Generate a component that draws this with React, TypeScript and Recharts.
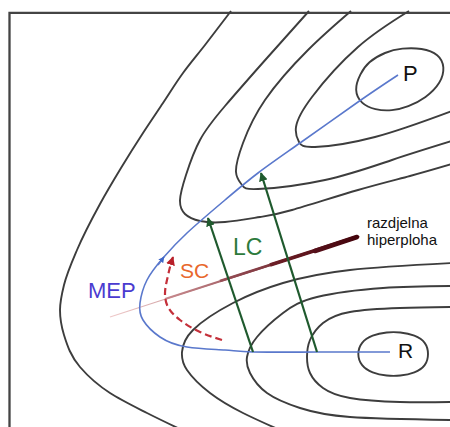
import { ComposedChart, Line, Scatter, XAxis, YAxis } from "recharts";

type Pt = { x: number; y: number };

// picture frame (left and top edge only)
const frame: Pt[] = [{ x: 9.5, y: 440 }, { x: 9.5, y: 12.8 }, { x: 460, y: 12.8 }];

// energy contours, upper (product) valley
const contourOuter: Pt[] = [
  { x: 231, y: 11 }, { x: 205, y: 45 }, { x: 183, y: 73 }, { x: 163, y: 103 }, { x: 143, y: 133 },
  { x: 121, y: 168 }, { x: 100, y: 204 }, { x: 77, y: 250 }, { x: 64, y: 285 }, { x: 60, y: 310 },
  { x: 64, y: 335 }, { x: 80, y: 367 }, { x: 110, y: 393 }, { x: 147, y: 413 }, { x: 182, y: 430 },
];
const contourP1: Pt[] = [
  { x: 309, y: 11 }, { x: 267, y: 58 }, { x: 225, y: 106 }, { x: 200, y: 140 }, { x: 186, y: 175 },
  { x: 180, y: 200 }, { x: 185, y: 214 }, { x: 200, y: 221 }, { x: 225, y: 222 }, { x: 260, y: 217 },
  { x: 292, y: 210 }, { x: 358, y: 190 }, { x: 410, y: 176 }, { x: 452, y: 164 },
];
const contourP2: Pt[] = [
  { x: 351, y: 11 }, { x: 308, y: 50 }, { x: 265, y: 100 }, { x: 243, y: 143 }, { x: 236, y: 172 },
  { x: 242, y: 185 }, { x: 258, y: 189 }, { x: 325, y: 180 }, { x: 392, y: 160 }, { x: 452, y: 141 },
];
const contourP3: Pt[] = [
  { x: 409, y: 11 }, { x: 358, y: 47 }, { x: 312, y: 97 }, { x: 296, y: 127 }, { x: 299, y: 142 },
  { x: 315, y: 147 }, { x: 375, y: 137 }, { x: 452, y: 111 },
];
const ellipseP: Pt[] = [
  { x: 354, y: 90 }, { x: 360, y: 74 }, { x: 368, y: 62 }, { x: 385, y: 52 }, { x: 402, y: 48 },
  { x: 422, y: 48 }, { x: 439, y: 54 }, { x: 445, y: 67 }, { x: 441, y: 83 }, { x: 426, y: 98 },
  { x: 408, y: 107 }, { x: 392, y: 111 }, { x: 375, y: 110 }, { x: 361, y: 104 },
];

// energy contours, lower (reactant) valley
const contourR1: Pt[] = [
  { x: 452, y: 307 }, { x: 400, y: 308 }, { x: 350, y: 312 }, { x: 323, y: 323 }, { x: 310, y: 340 },
  { x: 307, y: 357 }, { x: 310, y: 373 }, { x: 323, y: 388 }, { x: 350, y: 398 }, { x: 400, y: 402 },
  { x: 452, y: 402 },
];
const contourR2: Pt[] = [
  { x: 452, y: 286 }, { x: 383, y: 288 }, { x: 317, y: 297 }, { x: 283, y: 313 }, { x: 257, y: 337 },
  { x: 247, y: 357 }, { x: 250, y: 373 }, { x: 267, y: 393 }, { x: 300, y: 408 }, { x: 350, y: 417 },
  { x: 452, y: 420 },
];
const contourR3: Pt[] = [
  { x: 452, y: 263 }, { x: 350, y: 270 }, { x: 283, y: 283 }, { x: 233, y: 303 }, { x: 193, y: 330 },
  { x: 182, y: 352 }, { x: 187, y: 370 }, { x: 210, y: 393 }, { x: 243, y: 413 }, { x: 280, y: 430 },
];
const ellipseR: Pt[] = [
  { x: 357, y: 354 }, { x: 361, y: 342 }, { x: 372, y: 335 }, { x: 387, y: 332 }, { x: 400, y: 332 },
  { x: 415, y: 335 }, { x: 426, y: 342 }, { x: 429, y: 354 }, { x: 426, y: 366 }, { x: 415, y: 373 },
  { x: 400, y: 376 }, { x: 387, y: 376 }, { x: 372, y: 373 }, { x: 361, y: 366 },
];

// minimum energy path, R -> P
const mep: Pt[] = [
  { x: 390, y: 352 }, { x: 317, y: 352 }, { x: 253, y: 352 }, { x: 225, y: 350 }, { x: 187, y: 347 },
  { x: 160, y: 337 }, { x: 143, y: 320 }, { x: 140, y: 303 }, { x: 147, y: 280 }, { x: 163, y: 258 },
  { x: 187, y: 233 }, { x: 225, y: 200 }, { x: 258, y: 173 }, { x: 300, y: 143 }, { x: 358, y: 102 },
  { x: 398, y: 75 },
];
const mepArrow: Pt[] = [{ x: 158, y: 265 }, { x: 164, y: 257 }];

// tunnelling paths
const lc1: Pt[] = [{ x: 253, y: 352 }, { x: 208, y: 218 }];
const lc2: Pt[] = [{ x: 317, y: 352 }, { x: 261, y: 173 }];
const sc: Pt[] = [
  { x: 222, y: 340 }, { x: 200, y: 332 }, { x: 180, y: 320 }, { x: 168, y: 307 }, { x: 165, y: 293 },
  { x: 167, y: 280 }, { x: 170, y: 267 }, { x: 173, y: 257 },
];

// dividing surface, drawn as layers that thicken towards the right end
const surfaceLayers = [
  { id: "s0", data: [{ x: 110, y: 317 }, { x: 357, y: 237 }], width: 1.2, from: "#efcaca", to: "#7a2a30" },
  { id: "s1", data: [{ x: 165, y: 299 }, { x: 357, y: 237 }], width: 1.9, from: "#c88a8e", to: "#641820" },
  { id: "s2", data: [{ x: 220, y: 281 }, { x: 357, y: 237 }], width: 2.7, from: "#985058", to: "#520a12" },
  { id: "s3", data: [{ x: 270, y: 265 }, { x: 357, y: 237 }], width: 3.6, from: "#6e2028", to: "#48060e" },
  { id: "s4", data: [{ x: 315, y: 251 }, { x: 357, y: 237 }], width: 4.6, from: "#56101a", to: "#44040c" },
];

const labels = [
  { x: 403, y: 81, text: "P", color: "#111", size: 22 },
  { x: 398, y: 358, text: "R", color: "#111", size: 21 },
  { x: 88, y: 298, text: "MEP", color: "#4a3bd0", size: 22 },
  { x: 180, y: 278, text: "SC", color: "#e8672c", size: 21 },
  { x: 233, y: 255, text: "LC", color: "#2d7a3c", size: 23 },
  { x: 367, y: 228, text: "razdjelna", color: "#111", size: 15 },
  { x: 367, y: 245, text: "hiperploha", color: "#111", size: 15 },
];

const contours = [
  { id: "outer", data: contourOuter, type: "monotoneY" },
  { id: "p1", data: contourP1, type: "natural" },
  { id: "p2", data: contourP2, type: "natural" },
  { id: "p3", data: contourP3, type: "natural" },
  { id: "pe", data: ellipseP, type: "basisClosed" },
  { id: "r1", data: contourR1, type: "natural" },
  { id: "r2", data: contourR2, type: "natural" },
  { id: "r3", data: contourR3, type: "natural" },
  { id: "re", data: ellipseR, type: "basisClosed" },
];

const FONT = "'Liberation Sans', Arial, sans-serif";

const renderLabel = (props: any) => {
  const { cx, cy, payload } = props;
  return (
    <text x={cx} y={cy} fill={payload.color} fontSize={payload.size} fontFamily={FONT}>
      {payload.text}
    </text>
  );
};

export default function App() {
  return (
    <div style={{ position: "absolute", left: 0, top: 0, background: "#fff" }}>
      <ComposedChart width={450} height={427} margin={{ top: 0, right: 0, bottom: 0, left: 0 }}>
        <defs>
          {surfaceLayers.map((s) => (
            <linearGradient key={s.id} id={`grad-${s.id}`} x1="0" y1="0" x2="1" y2="0">
              <stop offset="0%" stopColor={s.from} />
              <stop offset="100%" stopColor={s.to} />
            </linearGradient>
          ))}
          <marker id="arrGreen" viewBox="0 0 10 10" refX="9" refY="5" markerWidth="9" markerHeight="9"
            markerUnits="userSpaceOnUse" orient="auto">
            <path d="M0,0 L10,5 L0,10 z" fill="#1f5a2e" />
          </marker>
          <marker id="arrRed" viewBox="0 0 10 10" refX="9" refY="5" markerWidth="9" markerHeight="9"
            markerUnits="userSpaceOnUse" orient="auto">
            <path d="M0,0 L10,5 L0,10 z" fill="#b8202a" />
          </marker>
          <marker id="arrBlue" viewBox="0 0 10 10" refX="9" refY="5" markerWidth="6" markerHeight="6"
            markerUnits="userSpaceOnUse" orient="auto">
            <path d="M0,0 L10,5 L0,10 z" fill="#3f66c8" />
          </marker>
        </defs>
        <XAxis type="number" dataKey="x" domain={[0, 450]} allowDataOverflow hide />
        <YAxis type="number" dataKey="y" domain={[0, 427]} allowDataOverflow reversed hide />

        <Line data={frame} dataKey="y" type="linear" stroke="#444" strokeWidth={2.3}
          dot={false} activeDot={false} isAnimationActive={false} />

        {contours.map((c) => (
          <Line key={c.id} data={c.data} dataKey="y" type={c.type as any} stroke="#3d3d3d"
            strokeWidth={1.9} dot={false} activeDot={false} isAnimationActive={false} />
        ))}

        {surfaceLayers.map((s, i) => (
          <Line key={s.id} data={s.data} dataKey="y" type="linear" stroke={`url(#grad-${s.id})`}
            strokeWidth={s.width} strokeLinecap={i === surfaceLayers.length - 1 ? "round" : "butt"}
            dot={false} activeDot={false} isAnimationActive={false} />
        ))}

        <Line data={mep} dataKey="y" type="natural" stroke="#5a78cc" strokeWidth={1.6}
          dot={false} activeDot={false} isAnimationActive={false} />
        <Line data={mepArrow} dataKey="y" type="linear" stroke="#5a78cc" strokeWidth={1.6}
          markerEnd="url(#arrBlue)" dot={false} activeDot={false} isAnimationActive={false} />

        <Line data={lc1} dataKey="y" type="linear" stroke="#1f5a2e" strokeWidth={2.2}
          markerEnd="url(#arrGreen)" dot={false} activeDot={false} isAnimationActive={false} />
        <Line data={lc2} dataKey="y" type="linear" stroke="#1f5a2e" strokeWidth={2.2}
          markerEnd="url(#arrGreen)" dot={false} activeDot={false} isAnimationActive={false} />

        <Line data={sc} dataKey="y" type="natural" stroke="#c4303a" strokeWidth={2.2}
          strokeDasharray="7 4" markerEnd="url(#arrRed)" dot={false} activeDot={false}
          isAnimationActive={false} />

        <Scatter data={labels} shape={renderLabel} isAnimationActive={false} />
      </ComposedChart>
    </div>
  );
}
